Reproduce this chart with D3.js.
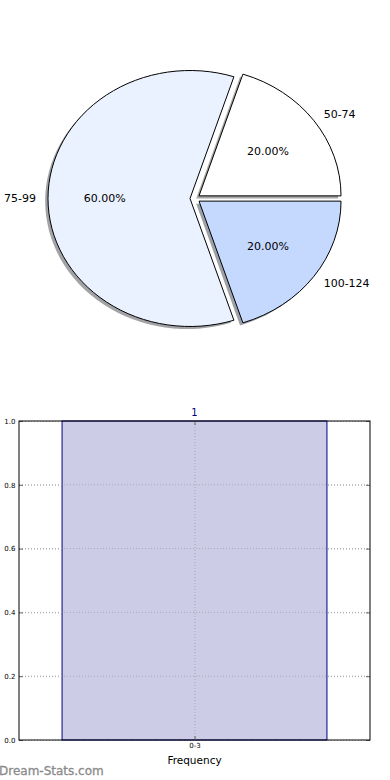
<!DOCTYPE html>
<html>
<head>
<meta charset="utf-8">
<script src="https://cdn.jsdelivr.net/npm/d3@7"></script>
<style>
  body { margin: 0; background: #fff; }
  svg { display: block; font-family: "DejaVu Sans", sans-serif; }
</style>
</head>
<body>
<div id="container"></div>
<script>
// Pie data
var pieLabels = ["50-74", "75-99", "100-124"];
var pieValues = [1, 3, 1];
var pieColors = ["#ffffff", "#eaf1ff", "#c5d9ff"];

// Bar data
var barCategories = ["0-3"];
var barValues = [1];
var yTicks = [0, 0.2, 0.4, 0.6, 0.8, 1.0];

var width = 390, height = 780;

var svg = d3.select("#container").append("svg")
    .attr("width", width)
    .attr("height", height);

// ---------- pie (matplotlib style, stretched into an ellipse) ----------
var cx = 195, cy = 198.5, rx = 142, ry = 128;
var explode = 0.035;
var labelDistance = 1.085;

var pie = d3.pie()
    .sort(null)
    .startAngle(Math.PI / 2)
    .endAngle(Math.PI / 2 - 2 * Math.PI);

var arcs = pie(pieValues);
var arc = d3.arc().innerRadius(0).outerRadius(1);

function mid(d) { return (d.startAngle + d.endAngle) / 2; }
function off(d, k) { var a = mid(d); return [k * Math.sin(a), -k * Math.cos(a)]; }

var pieG = svg.append("g")
    .attr("transform", "translate(" + cx + "," + cy + ") scale(" + rx + "," + ry + ")");

// shadows first, all behind the wedges
pieG.selectAll("path.shadow")
    .data(arcs)
    .enter().append("path")
    .attr("class", "shadow")
    .attr("d", arc)
    .attr("transform", function(d) {
        var o = off(d, explode);
        return "translate(" + (o[0] - 0.02) + "," + (o[1] + 0.02) + ")";
    })
    .attr("fill", function(d, i) {
        var c = d3.rgb(pieColors[i]);
        return d3.rgb(c.r * 0.3, c.g * 0.3, c.b * 0.3).toString();
    })
    .attr("opacity", 0.5);

pieG.selectAll("path.wedge")
    .data(arcs)
    .enter().append("path")
    .attr("class", "wedge")
    .attr("d", arc)
    .attr("transform", function(d) {
        var o = off(d, explode);
        return "translate(" + o[0] + "," + o[1] + ")";
    })
    .attr("fill", function(d, i) { return pieColors[i]; })
    .attr("stroke", "#000")
    .attr("stroke-width", 1)
    .attr("vector-effect", "non-scaling-stroke");

var total = d3.sum(pieValues);

// outer labels
svg.selectAll("text.plabel")
    .data(arcs)
    .enter().append("text")
    .attr("class", "plabel")
    .attr("x", function(d) { var e = off(d, explode), o = off(d, labelDistance); return cx + (e[0] + o[0]) * rx; })
    .attr("y", function(d) { var e = off(d, explode), o = off(d, labelDistance); return cy + (e[1] + o[1]) * ry; })
    .attr("dy", "0.36em")
    .attr("text-anchor", function(d) { return Math.sin(mid(d)) > 0 ? "start" : "end"; })
    .attr("font-size", "11px")
    .text(function(d, i) { return pieLabels[i]; });

// percentage labels
svg.selectAll("text.pct")
    .data(arcs)
    .enter().append("text")
    .attr("class", "pct")
    .attr("x", function(d) { var e = off(d, explode), o = off(d, 0.6); return cx + (e[0] + o[0]) * rx; })
    .attr("y", function(d) { var e = off(d, explode), o = off(d, 0.6); return cy + (e[1] + o[1]) * ry; })
    .attr("dy", "0.36em")
    .attr("text-anchor", "middle")
    .attr("font-size", "11px")
    .text(function(d) { return (d.value / total * 100).toFixed(2) + "%"; });

// ---------- bar chart ----------
var plotLeft = 19, plotRight = 370, plotTop = 421, plotBottom = 740;

var x = d3.scaleLinear().domain([-0.53, 0.53]).range([plotLeft, plotRight]);
var y = d3.scaleLinear().domain([0, 1]).range([plotBottom, plotTop]);
var barWidth = 0.8;

var chart = svg.append("g");

// grid outside the bar
chart.append("g")
    .attr("transform", "translate(" + plotLeft + ",0)")
    .call(d3.axisLeft(y).tickValues(yTicks).tickSize(-(plotRight - plotLeft)).tickFormat(""))
    .call(function(g) {
        g.select(".domain").remove();
        g.selectAll("line").attr("stroke", "#b8b8b8").attr("stroke-dasharray", "1,2");
    });

// bars
chart.selectAll("rect.bar")
    .data(barValues)
    .enter().append("rect")
    .attr("class", "bar")
    .attr("x", function(d, i) { return x(i - barWidth / 2); })
    .attr("width", function() { return x(barWidth) - x(0); })
    .attr("y", function(d) { return y(d); })
    .attr("height", function(d) { return y(0) - y(d); })
    .attr("fill", "#ccccE6")
    .attr("stroke", "#000080")
    .attr("stroke-width", 1);

// grid lines over the bar (matplotlib draws them on top)
chart.append("g")
    .attr("transform", "translate(0," + plotBottom + ")")
    .call(d3.axisBottom(x).tickValues([0]).tickSize(-(plotBottom - plotTop)).tickFormat(""))
    .call(function(g) {
        g.select(".domain").remove();
        g.selectAll("line").attr("stroke", "#a8a8b8").attr("stroke-dasharray", "1,2");
    });

chart.selectAll("line.hgrid")
    .data(yTicks.slice(1, -1))
    .enter().append("line")
    .attr("class", "hgrid")
    .attr("x1", plotLeft).attr("x2", plotRight)
    .attr("y1", function(d) { return y(d); })
    .attr("y2", function(d) { return y(d); })
    .attr("stroke", "#a8a8b8")
    .attr("stroke-dasharray", "1,2");

// bar value labels
chart.selectAll("text.val")
    .data(barValues)
    .enter().append("text")
    .attr("class", "val")
    .attr("x", function(d, i) { return x(i); })
    .attr("y", function(d) { return y(d) - 5; })
    .attr("text-anchor", "middle")
    .attr("font-size", "10px")
    .attr("fill", "#000080")
    .text(function(d) { return d; });

// axes with inward ticks
function styleAxis(g) {
    g.select(".domain").remove();
    g.selectAll("line").attr("stroke", "#666");
    g.selectAll("text").attr("font-size", "7px").attr("font-family", "DejaVu Sans, sans-serif").attr("fill", "#000");
}

chart.append("g")
    .attr("transform", "translate(" + plotLeft + ",0)")
    .call(d3.axisLeft(y).tickValues(yTicks).tickSize(-4).tickPadding(3.5).tickFormat(d3.format(".1f")))
    .call(styleAxis);

chart.append("g")
    .attr("transform", "translate(" + plotRight + ",0)")
    .call(d3.axisRight(y).tickValues(yTicks).tickSize(-4).tickFormat(""))
    .call(styleAxis);

chart.append("g")
    .attr("transform", "translate(0," + plotBottom + ")")
    .call(d3.axisBottom(x).tickValues(barCategories.map(function(c, i) { return i; }))
        .tickSize(-4).tickPadding(3).tickFormat(function(d) { return barCategories[d]; }))
    .call(styleAxis);

chart.append("g")
    .attr("transform", "translate(0," + plotTop + ")")
    .call(d3.axisTop(x).tickValues([0]).tickSize(-4).tickFormat(""))
    .call(styleAxis);

// frame
chart.append("rect")
    .attr("x", plotLeft).attr("y", plotTop)
    .attr("width", plotRight - plotLeft).attr("height", plotBottom - plotTop)
    .attr("fill", "none")
    .attr("stroke", "#000")
    .attr("stroke-width", 1);

chart.append("text")
    .attr("x", (plotLeft + plotRight) / 2)
    .attr("y", 764)
    .attr("text-anchor", "middle")
    .attr("font-size", "10.5px")
    .text("Frequency");

svg.append("text")
    .attr("x", -1)
    .attr("y", 775)
    .attr("font-size", "12px")
    .attr("fill", "#8a8a8a")
    .attr("stroke", "#8a8a8a")
    .attr("stroke-width", 0.3)
    .text("Dream-Stats.com");
</script>
</body>
</html>
